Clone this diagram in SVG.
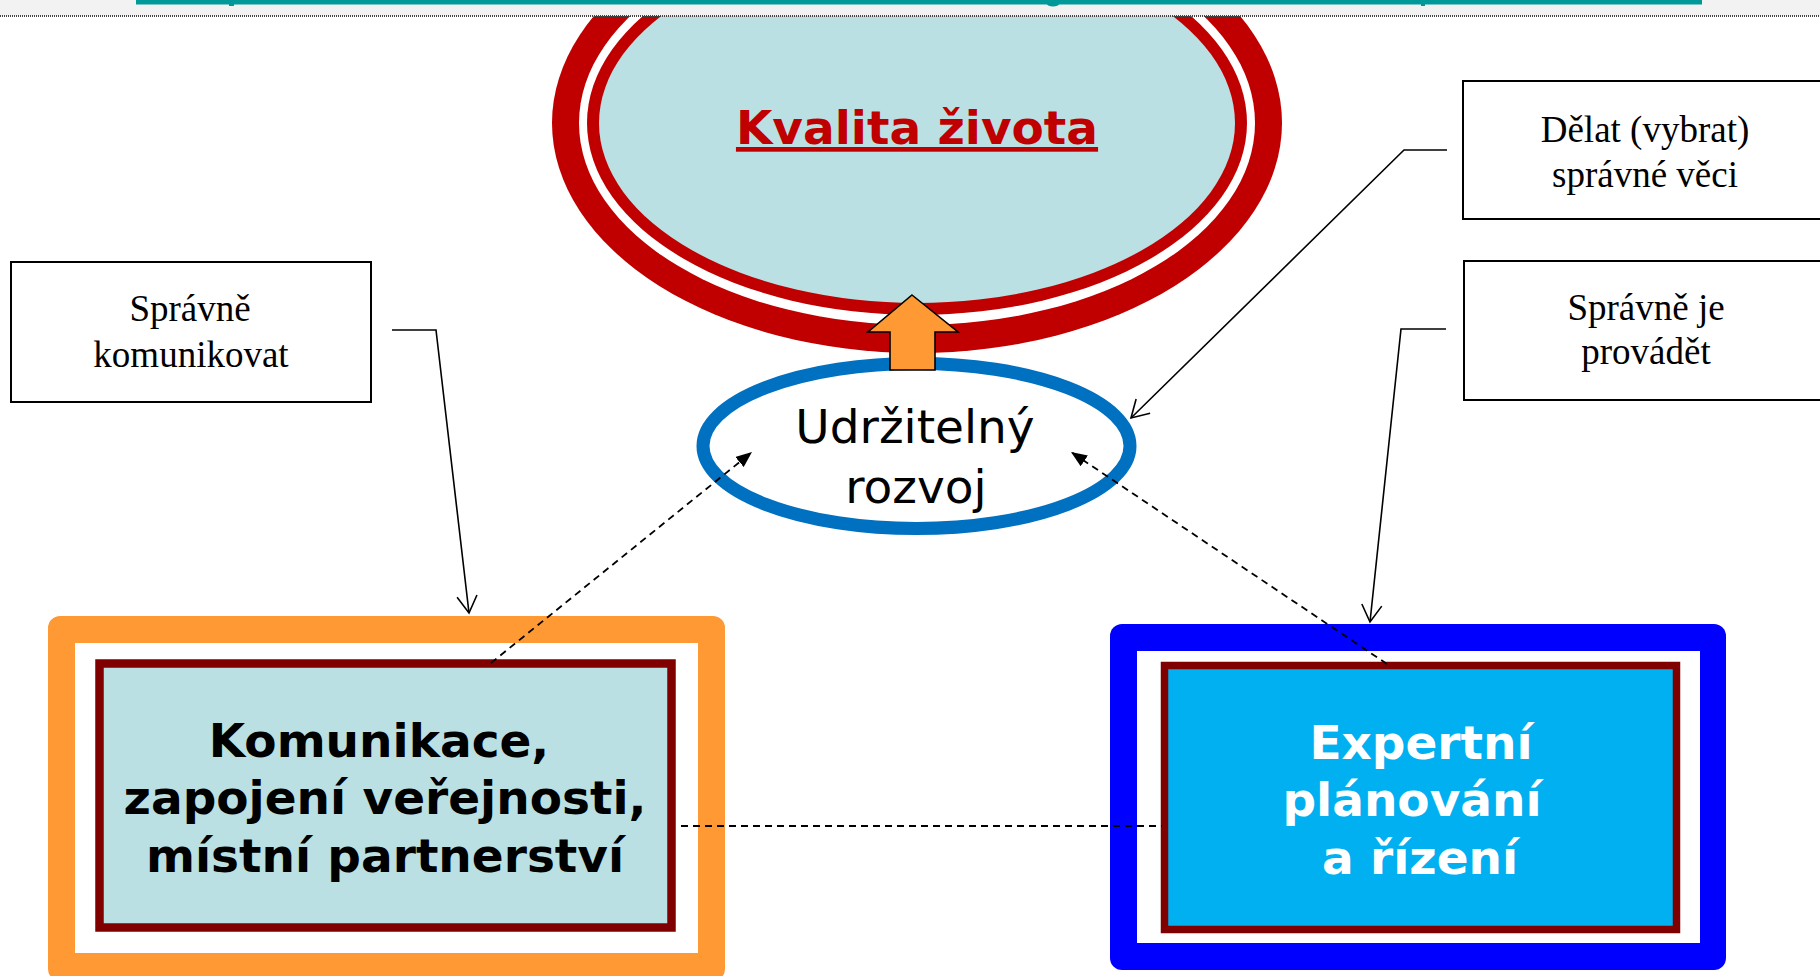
<svg xmlns="http://www.w3.org/2000/svg" width="1820" height="976" viewBox="0 0 1820 976">
<style>
.lbl{fill:#fff;stroke:#000;stroke-width:2}
.serif{font-family:"Liberation Serif","Times New Roman",serif;font-size:37px;fill:#000;text-anchor:middle}
.big{font-family:"DejaVu Sans","Verdana",sans-serif;font-size:47px;font-weight:bold;text-anchor:middle}
.solid{fill:none;stroke:#000;stroke-width:1.6}
.dash{fill:none;stroke:#000;stroke-width:1.8;stroke-dasharray:7 5}
</style>
<defs>
<marker id="open" markerUnits="userSpaceOnUse" viewBox="0 0 20 22" refX="18" refY="11" markerWidth="20" markerHeight="22" orient="auto">
<path d="M1,1 L18,11 L1,21" fill="none" stroke="#000" stroke-width="1.6"/>
</marker>
<marker id="fill" markerUnits="userSpaceOnUse" viewBox="0 0 16 13" refX="16" refY="6.5" markerWidth="16" markerHeight="13" orient="auto">
<path d="M0,0 L16,6.5 L0,13 Z" fill="#000"/>
</marker>
</defs>
<rect width="1820" height="976" fill="#fff"/>

<g id="kvalita">
<ellipse cx="917" cy="123" rx="365" ry="230" fill="#c00000"/>
<ellipse cx="917" cy="123" rx="338" ry="202" fill="#fff"/>
<ellipse cx="917" cy="123" rx="330" ry="192" fill="#c00000"/>
<ellipse cx="917" cy="123" rx="318" ry="180" fill="#bbe0e3"/>
<text x="917" y="144" class="big" fill="#c00000" text-decoration="underline">Kvalita života</text>
</g>

<g id="header">
<rect x="0" y="0" width="1820" height="16" fill="#f2f2f2"/>
<line x1="0" y1="16" x2="1820" y2="16" stroke="#444" stroke-width="2" stroke-dasharray="1 1"/>
<rect x="136" y="0" width="1566" height="4.5" fill="#009999"/>
<rect x="229" y="0" width="5" height="6" fill="#009999"/>
<ellipse cx="1053" cy="4" rx="6" ry="2.5" fill="#009999"/>
<rect x="1421" y="0" width="4" height="6" fill="#009999"/>
</g>

<g id="udrzitelny">
<ellipse cx="916.5" cy="446" rx="213.5" ry="82.5" fill="#fff" stroke="#0070c0" stroke-width="13"/>
<text x="915" y="443" font-family="'DejaVu Sans',Verdana,sans-serif" font-size="47" text-anchor="middle" fill="#000">Udržitelný</text>
<text x="916" y="503" font-family="'DejaVu Sans',Verdana,sans-serif" font-size="47" text-anchor="middle" fill="#000">rozvoj</text>
</g>

<g id="sipka">
<polygon points="912,295 958,332 935,332 935,370 890,370 890,332 868,332" fill="#ff9933" stroke="#000" stroke-width="1.6" stroke-linejoin="miter"/>
</g>

<g id="spravne-komunikovat">
<rect x="11" y="262" width="360" height="140" class="lbl"/>
<text x="190" y="321" class="serif">Správně</text>
<text x="191" y="367" class="serif">komunikovat</text>
</g>

<g id="delat">
<rect x="1463" y="81" width="364" height="138" class="lbl"/>
<text x="1645" y="142" class="serif">Dělat (vybrat)</text>
<text x="1645" y="187" class="serif">správné věci</text>
</g>

<g id="spravne-provadet">
<rect x="1464" y="261" width="364" height="139" class="lbl"/>
<text x="1646" y="320" class="serif">Správně je</text>
<text x="1646" y="364" class="serif">provádět</text>
</g>

<g id="komunikace">
<rect x="48" y="616" width="677" height="365" rx="12" fill="#ff9933"/>
<rect x="75" y="643" width="623" height="310" fill="#fff"/>
<rect x="99.5" y="663.5" width="572" height="264" fill="#bbe0e3" stroke="#800000" stroke-width="8.5"/>
<text x="379" y="757" class="big" fill="#000">Komunikace,</text>
<text x="385" y="814" class="big" fill="#000">zapojení veřejnosti,</text>
<text x="385" y="872" class="big" fill="#000">místní partnerství</text>
</g>

<g id="expertni">
<rect x="1110" y="624" width="616" height="346" rx="12" fill="#0000ff"/>
<rect x="1137" y="651" width="563" height="292" fill="#fff"/>
<rect x="1164.5" y="665.5" width="512" height="264" fill="#00b0f0" stroke="#800000" stroke-width="7.5"/>
<text x="1421" y="759" class="big" fill="#fff">Expertní</text>
<text x="1412" y="816" class="big" fill="#fff">plánování</text>
<text x="1420" y="874" class="big" fill="#fff">a řízení</text>
</g>

<g id="connectors">
<polyline points="392,330 436,330 469,613" class="solid" marker-end="url(#open)"/>
<polyline points="1447,150 1404,150 1131,418" class="solid" marker-end="url(#open)"/>
<polyline points="1446,329 1401,329 1370,622" class="solid" marker-end="url(#open)"/>
<line x1="491" y1="663" x2="752" y2="452" class="dash" marker-end="url(#fill)"/>
<line x1="1387" y1="664" x2="1071" y2="452" class="dash" marker-end="url(#fill)"/>
<line x1="681" y1="826" x2="1162" y2="826" class="dash"/>
</g>
</svg>
